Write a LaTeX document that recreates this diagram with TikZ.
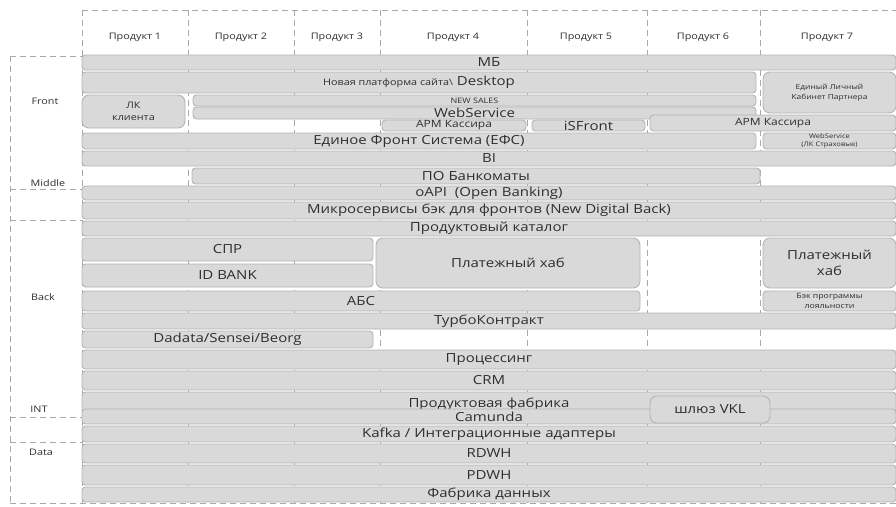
\documentclass[tikz,border=0pt]{standalone}
\usepackage{fontspec}
\setmainfont{Open Sans}[FakeStretch=1.2]
\definecolor{barfill}{HTML}{D9D9D9}
\definecolor{barline}{HTML}{B4B4B4}
\definecolor{dashc}{HTML}{A8A8A8}
\definecolor{txt}{HTML}{2E2E2E}
\newcommand\fs[2]{\fontsize{#1}{#2}\selectfont}
\tikzset{
  bar/.style={draw=barline, fill=barfill, line width=0.9pt, rounded corners=3.5pt, inner sep=0pt, text=txt, font=\fs{12.5}{14}, align=center},
  bigr/.style={rounded corners=7pt},
  guide/.style={draw=dashc, line width=0.9pt, dash pattern=on 6pt off 4pt},
  lbl/.style={inner sep=0pt, text=txt, font=\fs{9}{10}},
}
\newcommand\mybar[7]{%
  \node[bar,#1,minimum width={(#5-#3)*1pt},minimum height={(#6-#4)*1pt}] (#2) at ({(#3+#5)/2},{(#4+#6)/2}) {#7};}
\begin{document}
\begin{tikzpicture}[x=1pt,y=-1pt]
\useasboundingbox (0,0) rectangle (896,506);
% guides
\coordinate (tl) at (82,10); \coordinate (tr) at (896,10);
\draw[guide] (tl) -- (tr);
\foreach \gx in {82,188,294,380,527,647,760}{
  \draw[guide] (\gx,10) -- (\gx,503);
}
\coordinate (ltop) at (10,56); \coordinate (lbot) at (10,503);
\draw[guide] (ltop) -- (lbot);
\foreach \gy in {56,189,220,417,442}{
  \draw[guide] (10,\gy) -- (82,\gy);
}
\draw[guide] (10,503) -- (896,503);
% header
\node[lbl] (p1) at (135,37) {Продукт 1};
\node[lbl] (p2) at (241,37) {Продукт 2};
\node[lbl] (p3) at (337,37) {Продукт 3};
\node[lbl] (p4) at (453,37) {Продукт 4};
\node[lbl] (p5) at (586,37) {Продукт 5};
\node[lbl] (p6) at (703,37) {Продукт 6};
\node[lbl] (p7) at (827,37) {Продукт 7};
% left labels
\node[lbl] (lfront) at (45,101) {Front};
\node[lbl] (lmid) at (48,183) {Middle};
\node[lbl] (lback) at (43,297) {Back};
\node[lbl] (lint) at (39,409) {INT};
\node[lbl] (ldata) at (41,452) {Data};
% bars
\mybar{}{mb}{82}{55}{896}{70}{МБ}
\mybar{}{desktop}{82}{72}{756}{93}{{\fs{9}{10}Новая платформа сайта\textbackslash} Desktop}
\mybar{bigr,font=\fs{7}{10}}{elkp}{763}{72}{896}{113}{Единый Личный\\Кабинет Партнера}
\mybar{bigr,font=\fs{9}{12}}{lk}{82}{95}{185}{128}{ЛК\\клиента}
\mybar{font=\fs{7.5}{8}}{newsales}{193}{95}{756}{106}{NEW SALES}
\mybar{}{websvc}{193}{107}{756}{119}{WebService}
\mybar{font=\fs{10}{11}}{arm4}{382}{120}{526}{131}{АРМ Кассира}
\mybar{}{isfront}{532}{120}{645}{131}{iSFront}
\mybar{font=\fs{10}{11}}{arm67}{650}{115}{896}{131}{АРМ Кассира}
\mybar{}{efs}{82}{133}{756}{149}{Единое Фронт Система (ЕФС)}
\mybar{font=\fs{6.3}{8.5}}{wsins}{763}{133}{896}{149}{WebService\\(ЛК Страховые)}
\mybar{}{bi}{82}{151}{896}{166}{BI}
\mybar{}{atm}{192}{168}{760}{184}{ПО Банкоматы}
\mybar{}{oapi}{82}{186}{896}{200}{oAPI\ \ (Open Banking)}
\mybar{}{ndb}{82}{202}{896}{219}{Микросервисы бэк для фронтов (New Digital Back)}
\mybar{}{catalog}{82}{221}{896}{236}{Продуктовый каталог}
\mybar{}{spr}{82}{238}{373}{261}{СПР}
\mybar{}{idbank}{82}{264}{373}{287}{ID BANK}
\mybar{bigr}{payhub}{376}{238}{640}{288}{Платежный хаб}
\mybar{bigr,font=\fs{12.5}{16}}{payhub7}{763}{238}{896}{288}{Платежный\\хаб}
\mybar{}{abs}{82}{291}{640}{311}{АБС}
\mybar{font=\fs{7.3}{9.5}}{loyal}{763}{291}{896}{311}{Бэк программы\\лояльности}
\mybar{}{turbo}{82}{313}{896}{329}{ТурбоКонтракт}
\mybar{}{dadata}{82}{331}{373}{348}{Dadata/Sensei/Beorg}
\mybar{}{proc}{82}{350}{896}{369}{Процессинг}
\mybar{}{crm}{82}{371}{896}{390}{CRM}
\mybar{text height=9pt,text depth=0pt}{pfab}{82}{392}{896}{414}{Продуктовая фабрика}
\mybar{}{camunda}{82}{409}{896}{424}{Camunda}
\mybar{bigr}{vkl}{650}{396}{770}{423}{шлюз VKL}
\mybar{}{kafka}{82}{426}{896}{442}{Kafka / Интеграционные адаптеры}
\mybar{}{rdwh}{82}{444}{896}{463}{RDWH}
\mybar{}{pdwh}{82}{465}{896}{485}{PDWH}
\mybar{}{datafab}{82}{487}{896}{502}{Фабрика данных}
\end{tikzpicture}
\end{document}
